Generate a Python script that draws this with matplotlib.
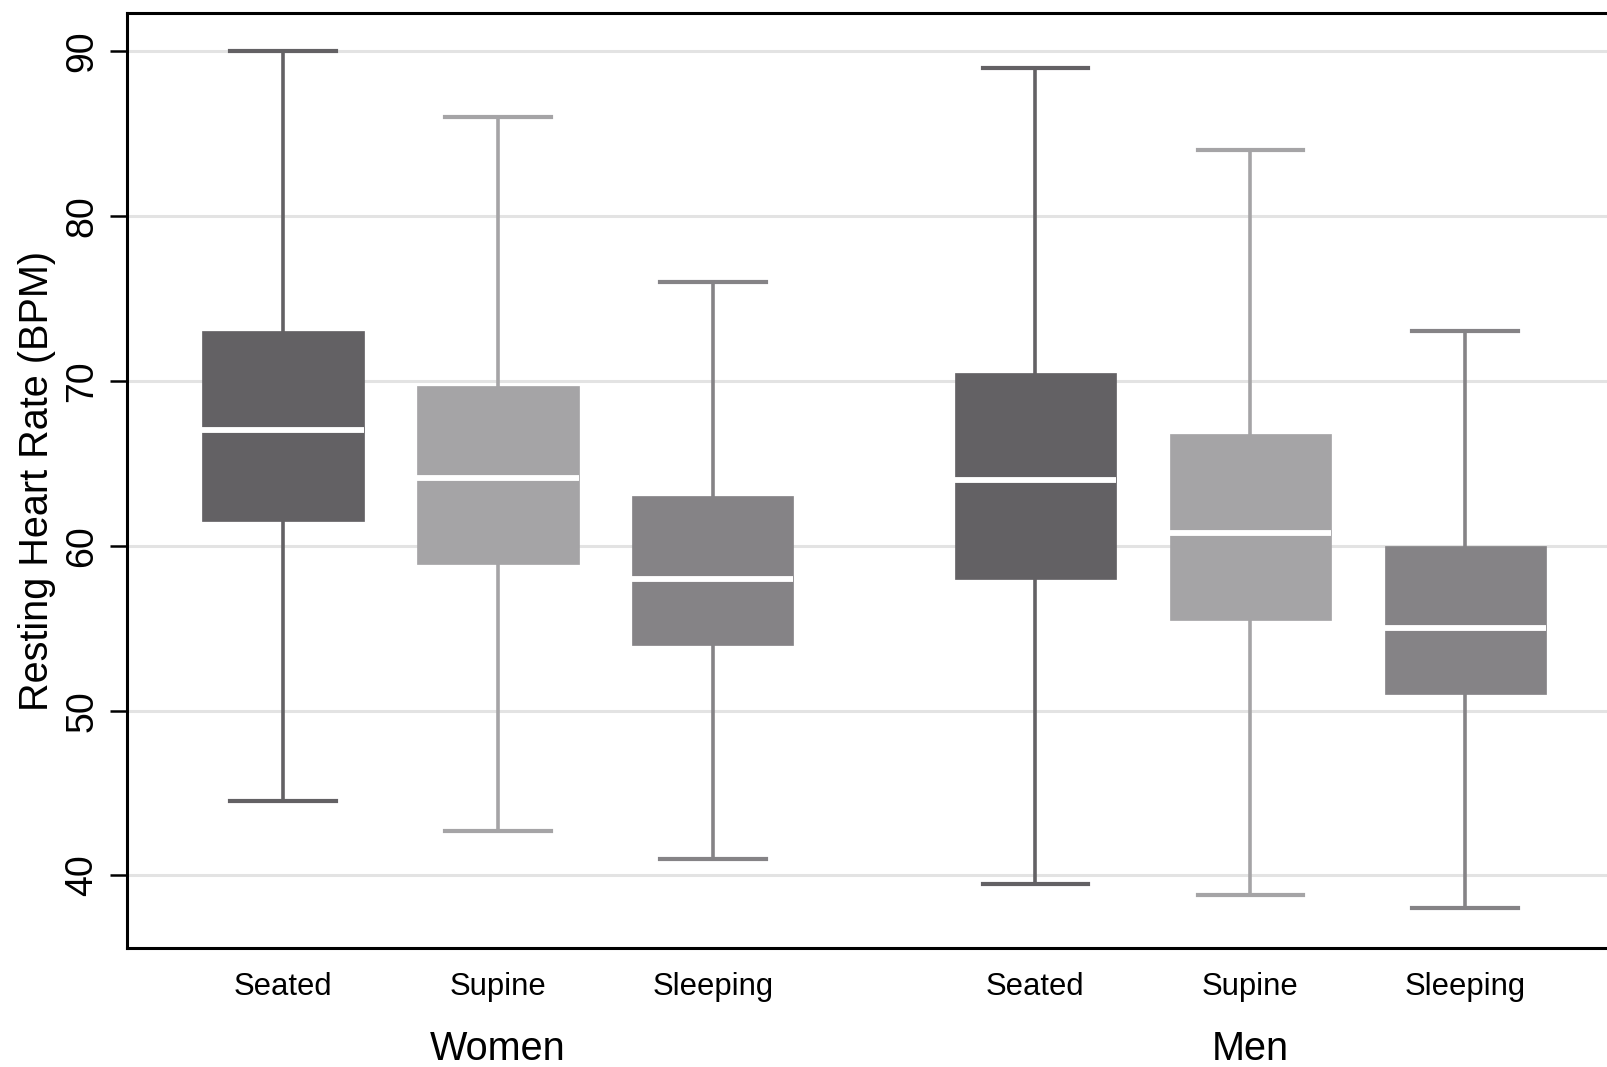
import matplotlib.pyplot as plt
from matplotlib.transforms import blended_transform_factory

plt.rcParams['font.family'] = ['Liberation Sans', 'DejaVu Sans']

# Values (resting heart rate, BPM)
positions_labels = ['Seated', 'Supine', 'Sleeping', 'Seated', 'Supine', 'Sleeping']
groups = ['Women', 'Men']
whisker_low = [44.5, 42.7, 41.0, 39.5, 38.8, 38.0]
q1 = [61.5, 58.9, 54.0, 58.0, 55.5, 51.0]
median = [67.0, 64.1, 58.0, 64.0, 60.8, 55.0]
q3 = [73.0, 69.7, 63.0, 70.5, 66.8, 60.0]
whisker_high = [90.0, 86.0, 76.0, 89.0, 84.0, 73.0]

positions = [1, 2, 3, 4.5, 5.5, 6.5]
group_centers = [2, 5.5]
box_colors = ['#636164', '#a5a4a6', '#858386', '#636164', '#a5a4a6', '#858386']

fig = plt.figure(figsize=(16.07, 10.67), dpi=100)
ax = fig.add_axes([0.079, 0.1115, 0.921, 0.876])

# build box statistics for bxp
stats = []
for i in range(len(positions)):
    stats.append({
        'whislo': whisker_low[i], 'q1': q1[i], 'med': median[i],
        'q3': q3[i], 'whishi': whisker_high[i], 'fliers': [],
    })

bp = ax.bxp(stats, positions=positions, widths=0.75, patch_artist=True,
            showfliers=False, showcaps=True,
            medianprops=dict(color='white', linewidth=4.2, solid_capstyle='butt'),
            capwidths=0.49)

for i, c in enumerate(box_colors):
    bp['boxes'][i].set_facecolor(c)
    bp['boxes'][i].set_edgecolor(c)
    bp['boxes'][i].set_linewidth(0.5)
    for ln in bp['whiskers'][2 * i:2 * i + 2]:
        ln.set_color(c)
        ln.set_linewidth(2.6)
    for ln in bp['caps'][2 * i:2 * i + 2]:
        ln.set_color(c)
        ln.set_linewidth(3.0)
    bp['medians'][i].set_zorder(4)

# axes range and grid
ax.set_xlim(0.274, 7.16)
ax.set_ylim(35.6, 92.3)
ax.set_yticks([40, 50, 60, 70, 80, 90])
ax.yaxis.grid(True, color='#e3e3e3', linewidth=2.2)
ax.set_axisbelow(True)

for side in ['left', 'top', 'bottom']:
    ax.spines[side].set_linewidth(2.2)
    ax.spines[side].set_color('black')
ax.spines['right'].set_visible(False)

ax.tick_params(axis='y', direction='out', length=12, width=1.8, labelsize=27, pad=7)
for lbl in ax.get_yticklabels():
    lbl.set_rotation(90)
    lbl.set_va('center')

ax.set_xticks(positions)
ax.set_xticklabels(positions_labels)
ax.tick_params(axis='x', length=0, labelsize=22.3, pad=17)

ax.set_ylabel('Resting Heart Rate (BPM)', fontsize=28.5, labelpad=6)

# group labels under the categories
trans = blended_transform_factory(ax.transData, ax.transAxes)
for name, xc in zip(groups, group_centers):
    ax.text(xc, -0.12, name, transform=trans, ha='center', va='baseline', fontsize=28.5)

fig.savefig('out.png', dpi=100)
